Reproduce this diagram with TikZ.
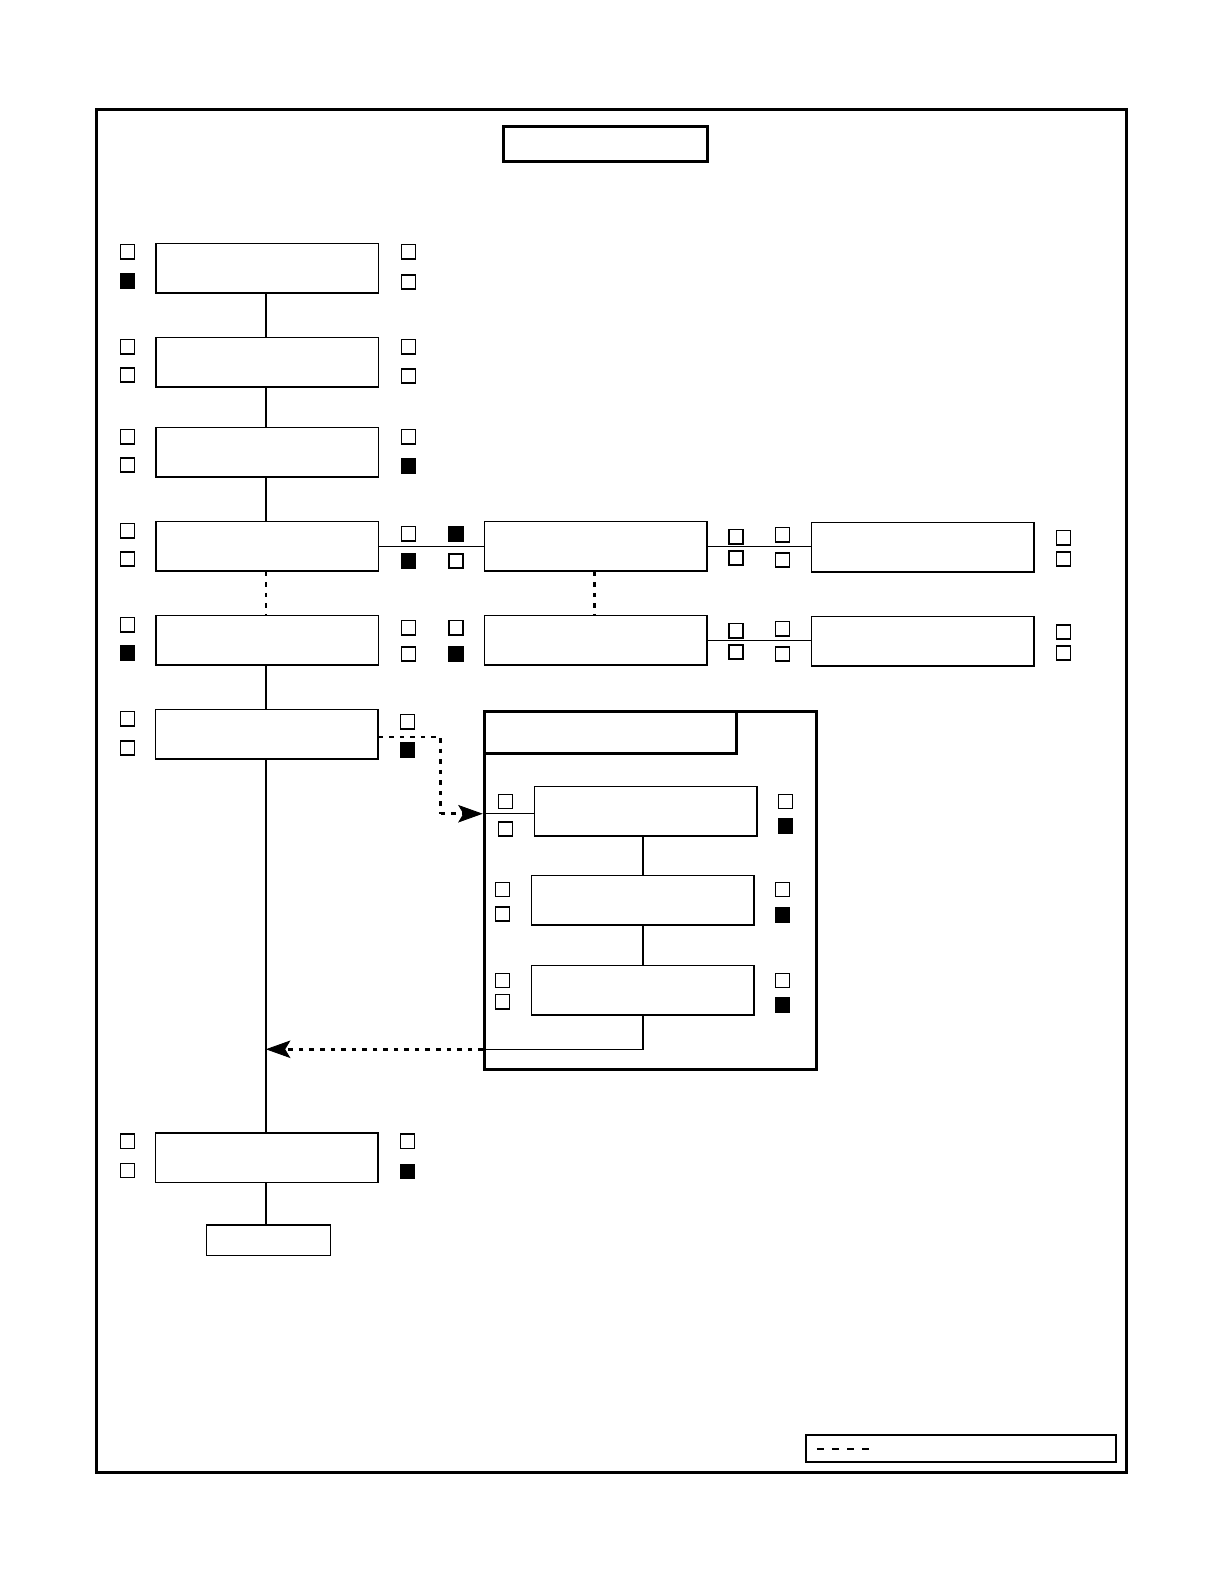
\documentclass[tikz,border=0pt]{standalone}
\usetikzlibrary{arrows.meta, positioning}
\tikzset{
  every picture/.style={line width=0.8pt},
  box/.style={draw, line width=0.8pt, inner sep=0pt, minimum width=4.447cm, minimum height=0.99cm},
  heavy/.style={draw, line width=1.7pt, inner sep=0pt},
  chk/.style={draw, line width=0.9pt, inner sep=0pt, minimum size=0.283cm},
  chkon/.style={chk, fill=black},
  link/.style={draw, line width=0.8pt},
  dotlink/.style={draw, line width=1.5pt, dash pattern=on 2.6pt off 3.4pt},
  dotarrow/.style={dotlink, -{Stealth[length=14pt, width=10pt, inset=3pt, line width=0.5pt, sep=0pt]}},
}

\begin{document}
\begin{tikzpicture}[x=0.020215cm, y=-0.020215cm]
  \useasboundingbox (0,0) rectangle (1212,1568);
  % frame, title and legend
  \draw[line width=1.7pt] (95,108) rectangle (1114,1457);
  \node[heavy, minimum width=4.083cm, minimum height=0.708cm] (title) at (599,142.5) {};
  \node[draw, line width=1.1pt, inner sep=0pt, minimum width=6.206cm, minimum height=0.526cm] (legend) at (950.5,1433) {};
  \draw[line width=1.1pt, dash pattern=on 4pt off 4.6pt] (legend.west) ++(12,0) -- ++(52,0);
  % main column
  \node[box] (b1) at (264.5,265.5) {};
  \node[box] (b2) at (264.5,358.5) {};
  \node[box] (b3) at (264.5,447.5) {};
  \node[box] (b4) at (264.5,540.5) {};
  \node[box] (b5) at (264.5,633.5) {};
  \node[box] (b6) at (264,726.5) {};
  \node[box] (b7) at (264,1145.5) {};
  \node[box, minimum width=2.486cm, minimum height=0.606cm] (fin) at (265.5,1227) {};
  \coordinate (spine) at (263,0);
  \draw[link] (b1.south -| spine) -- (b2.north -| spine);
  \draw[link] (b2.south -| spine) -- (b3.north -| spine);
  \draw[link] (b3.south -| spine) -- (b4.north -| spine);
  \draw[dotlink] (b4.south -| spine) -- (b5.north -| spine);
  \draw[link] (b5.south -| spine) -- (b6.north -| spine);
  \draw[link] (b6.south -| spine) -- (b7.north -| spine);
  \draw[link] (b7.south -| spine) -- (fin.north -| spine);
  % side branches
  \node[box] (m4) at (589.5,540.5) {};
  \node[box] (m5) at (589.5,633.5) {};
  \node[box] (r4) at (913,541.5) {};
  \node[box] (r5) at (913,634.5) {};
  \draw[link] (b4) -- (m4); \draw[link] (m4) -- (m4 -| r4.west);
  \draw[link] (m5) -- (m5 -| r5.west);
  \draw[dotlink] (m4.south -| 588,0) -- (m5.north -| 588,0);
  % sub process group
  \node[heavy, minimum width=6.651cm, minimum height=7.156cm] (group) at (643.5,881) {};
  \node[heavy, anchor=north west, minimum width=5.054cm, minimum height=0.829cm] (tab) at (group.north west) {};
  \node[box] (ia) at (639,802.5) {};
  \node[box] (ib) at (636,890.5) {};
  \node[box] (ic) at (636,979.5) {};
  \draw[link] (ia.south -| ib.north) -- (ib); \draw[link] (ib) -- (ic);
  \coordinate (tap) at (436,805);
  \coordinate (entry) at (group.west |- tap);
  \coordinate (ret) at (ic.south |- 0,1038);
  \coordinate (back) at (group.west |- ret);
  \draw[dotlink] (b6.east |- 0,729) -| (tap);
  \draw[dotarrow] (tap) -- (entry);
  \draw[link] (entry) -- (entry -| ia.west);
  \draw[link] (ic) -- (ret) -- (back);
  \draw[dotarrow] (back) -- (back -| spine);
  % check boxes
  \foreach \x/\y/\f [count=\i] in {
    126/249/chk, 126/278/chkon, 404/249/chk, 404/279/chk,
    126/343/chk, 126/371/chk, 404/343/chk, 404/372/chk,
    126/432/chk, 126/460/chk, 404/432/chk, 404/461/chkon,
    126/525/chk, 126/553/chk, 404/528/chk, 404/555/chkon, 451/528/chkon, 451/555/chk,
    728/531/chk, 728/552/chk, 774/529/chk, 774/554/chk, 1052/532/chk, 1052/553/chk,
    126/618/chk, 126/646/chkon, 404/621/chk, 404/647/chk, 451/621/chk, 451/647/chkon,
    728/624/chk, 728/645/chk, 774/622/chk, 774/647/chk, 1052/625/chk, 1052/646/chk,
    126/711/chk, 126/740/chk, 403/714/chk, 403/742/chkon,
    500/793/chk, 500/820/chk, 777/793/chk, 777/817/chkon,
    497/880/chk, 497/904/chk, 774/880/chk, 774/905/chkon,
    497/970/chk, 497/991/chk, 774/970/chk, 774/994/chkon,
    126/1129/chk, 126/1158/chk, 403/1129/chk, 403/1159/chkon}
    \node[\f] (cb\i) at (\x,\y) {};
\end{tikzpicture}
\end{document}
